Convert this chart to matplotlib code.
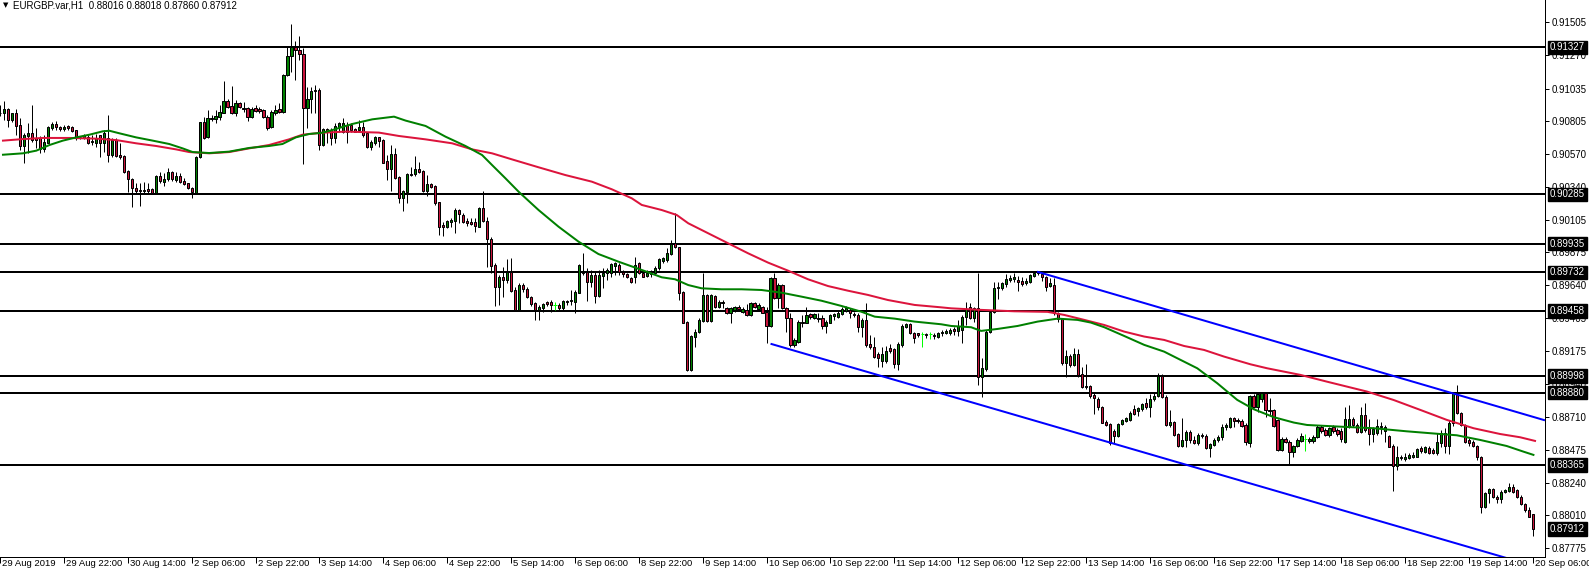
import numpy as np
import matplotlib
matplotlib.use("Agg")
import matplotlib.pyplot as plt
import matplotlib.transforms as mtransforms

plt.rcParams['font.family'] = ['Liberation Sans', 'DejaVu Sans']

# EURGBP H1 candles, prices in points (1e-5)
opens = [90860,
    90864, 90888, 90812, 90864, 90777, 90628, 90699, 90718, 90682, 90682,
    90604, 90651, 90753, 90784, 90760, 90746, 90770, 90765, 90741, 90694,
    90682, 90694, 90659, 90651, 90706, 90647, 90682, 90564, 90670, 90566,
    90557, 90451, 90391, 90328, 90316, 90311, 90323, 90323, 90297, 90415,
    90375, 90391, 90446, 90387, 90415, 90377, 90363, 90328, 90292, 90547,
    90796, 90689, 90817, 90817, 90836, 90864, 90944, 90911, 90859, 90930,
    90895, 90895, 90836, 90897, 90892, 90883, 90836, 90760, 90864, 90888,
    90871, 91131, 91266, 91332, 91308, 91280, 90895, 90959, 91020, 91025,
    90635, 90746, 90741, 90682, 90765, 90730, 90777, 90777, 90746, 90741,
    90760, 90718, 90619, 90652, 90689, 90671, 90524, 90465, 90571, 90406,
    90257, 90304, 90430, 90427, 90465, 90451, 90311, 90359, 90344, 90229,
    90068, 90051, 90092, 90099, 90174, 90139, 90096, 90087, 90087, 90056,
    90186, 90099, 89966, 89784, 89631, 89697, 89678, 89737, 89607, 89465,
    89643, 89614, 89555, 89513, 89465, 89477, 89520, 89520, 89501, 89501,
    89477, 89525, 89527, 89525, 89588, 89737, 89737, 89666, 89714, 89565,
    89707, 89725, 89730, 89780, 89784, 89737, 89721, 89690, 89700, 89801,
    89730, 89706, 89737, 89725, 89761, 89815, 89820, 89862, 89938, 89909,
    89595, 89382, 89040, 89276, 89312, 89390, 89572, 89390, 89565, 89489,
    89524, 89477, 89442, 89465, 89489, 89453, 89465, 89430, 89512, 89470,
    89484, 89453, 89352, 89690, 89548, 89642, 89477, 89406, 89217, 89241,
    89383, 89375, 89437, 89406, 89406, 89406, 89352, 89375, 89423, 89413,
    89437, 89460, 89465, 89437, 89430, 89347, 89394, 89224, 89201, 89153,
    89106, 89106, 89193, 89186, 89080, 89217, 89347, 89366, 89305, 89300,
    89295, 89295, 89295, 89288, 89276, 89300, 89305, 89305, 89329, 89319,
    89324, 89418, 89485, 89407, 89477, 88993, 89045, 89312, 89454, 89619,
    89619, 89650, 89678, 89683, 89678, 89674, 89655, 89664, 89707, 89726,
    89721, 89697, 89636, 89643, 89442, 89400, 89088, 89140, 89076, 89154,
    89012, 88917, 88927, 88863, 88832, 88776, 88674, 88657, 88610, 88572,
    88657, 88681, 88686, 88762, 88752, 88762, 88804, 88776, 88832, 88856,
    88998, 88851, 88650, 88674, 88587, 88502, 88540, 88603, 88540, 88520,
    88580, 88572, 88485, 88509, 88540, 88563, 88634, 88639, 88698, 88686,
    88681, 88650, 88525, 88856, 88780, 88832, 88875, 88757, 88757, 88686,
    88473, 88549, 88532, 88461, 88501, 88539, 88549, 88539, 88539, 88563,
    88634, 88615, 88579, 88634, 88615, 88610, 88532, 88643, 88690, 88650,
    88603, 88721, 88627, 88586, 88591, 88643, 88610, 88572, 88501, 88360,
    88421, 88407, 88414, 88426, 88426, 88485, 88461, 88485, 88473, 88449,
    88525, 88596, 88501, 88662, 88875, 88738, 88650, 88544, 88532, 88501,
    88421, 88067, 88166, 88194, 88142, 88123, 88178, 88185, 88213, 88190,
    88142, 88090, 88048, 88016]

highs = [90920,
    90947, 90895, 90864, 90888, 90824, 90718, 90788, 90918, 90753, 90699,
    90706, 90770, 90800, 90807, 90770, 90777, 90777, 90770, 90741, 90700,
    90710, 90706, 90706, 90713, 90706, 90741, 90848, 90682, 90682, 90651,
    90564, 90458, 90399, 90363, 90363, 90375, 90363, 90328, 90422, 90446,
    90434, 90469, 90451, 90446, 90434, 90399, 90368, 90335, 90557, 90800,
    90836, 90883, 90848, 90883, 90918, 91091, 90959, 91053, 90954, 90942,
    90942, 90902, 90907, 90918, 90902, 90888, 90848, 90883, 90918, 90930,
    91138, 91332, 91493, 91374, 91408, 91320, 91048, 91048, 91060, 91037,
    90753, 90753, 90753, 90789, 90800, 90824, 90800, 90789, 90753, 90812,
    90800, 90723, 90671, 90699, 90694, 90675, 90564, 90635, 90611, 90415,
    90316, 90434, 90482, 90557, 90517, 90458, 90422, 90368, 90352, 90233,
    90092, 90103, 90115, 90186, 90179, 90155, 90115, 90115, 90115, 90198,
    90309, 90127, 89985, 89796, 89713, 89773, 89825, 89832, 89631, 89655,
    89659, 89626, 89565, 89522, 89501, 89513, 89532, 89536, 89525, 89513,
    89536, 89536, 89607, 89607, 89791, 89867, 89761, 89749, 89737, 89749,
    89761, 89761, 89796, 89808, 89796, 89749, 89730, 89701, 89843, 89808,
    89737, 89749, 89749, 89777, 89831, 89843, 89902, 89961, 90150, 89914,
    89602, 89390, 89288, 89328, 89406, 89730, 89579, 89579, 89572, 89536,
    89536, 89484, 89489, 89494, 89501, 89484, 89508, 89522, 89524, 89512,
    89494, 89489, 89697, 89725, 89654, 89650, 89489, 89442, 89264, 89394,
    89430, 89484, 89446, 89442, 89442, 89430, 89394, 89437, 89446, 89465,
    89489, 89494, 89477, 89454, 89442, 89406, 89512, 89288, 89276, 89170,
    89205, 89210, 89224, 89193, 89241, 89366, 89375, 89375, 89312, 89305,
    89312, 89305, 89312, 89305, 89312, 89324, 89329, 89336, 89347, 89395,
    89430, 89525, 89518, 89489, 89726, 89123, 89324, 89466, 89666, 89666,
    89666, 89721, 89714, 89726, 89707, 89697, 89690, 89721, 89744, 89744,
    89730, 89707, 89690, 89690, 89454, 89407, 89182, 89154, 89194, 89187,
    89064, 89083, 88934, 88875, 88847, 88785, 88686, 88667, 88620, 88662,
    88691, 88710, 88752, 88792, 88780, 88809, 88839, 88870, 88875, 89017,
    89012, 88863, 88757, 88681, 88596, 88698, 88615, 88615, 88572, 88591,
    88591, 88587, 88525, 88556, 88580, 88657, 88662, 88710, 88710, 88698,
    88691, 88662, 88863, 88870, 88875, 88879, 88879, 88839, 88761, 88690,
    88567, 88563, 88544, 88508, 88556, 88591, 88586, 88563, 88579, 88650,
    88650, 88627, 88638, 88650, 88627, 88627, 88780, 88792, 88705, 88667,
    88780, 88804, 88690, 88638, 88690, 88674, 88650, 88579, 88516, 88501,
    88438, 88449, 88449, 88461, 88485, 88501, 88501, 88501, 88485, 88591,
    88615, 88627, 88686, 88887, 88934, 88745, 88657, 88556, 88544, 88508,
    88430, 88178, 88201, 88201, 88154, 88190, 88194, 88241, 88232, 88194,
    88154, 88095, 88067, 88018]

lows = [90840,
    90812, 90760, 90800, 90706, 90599, 90510, 90581, 90659, 90611, 90576,
    90588, 90647, 90741, 90741, 90736, 90736, 90741, 90729, 90670, 90675,
    90675, 90642, 90635, 90623, 90552, 90588, 90517, 90552, 90552, 90533,
    90434, 90304, 90198, 90292, 90202, 90292, 90297, 90292, 90288, 90363,
    90344, 90382, 90382, 90375, 90363, 90351, 90321, 90257, 90288, 90540,
    90675, 90682, 90807, 90788, 90812, 90859, 90895, 90855, 90840, 90895,
    90871, 90807, 90824, 90871, 90859, 90824, 90741, 90753, 90848, 90859,
    90864, 91124, 91155, 91096, 91237, 90498, 90753, 90859, 90864, 90599,
    90628, 90647, 90635, 90647, 90730, 90718, 90652, 90730, 90725, 90730,
    90694, 90611, 90600, 90635, 90623, 90505, 90387, 90311, 90392, 90222,
    90170, 90222, 90415, 90415, 90439, 90304, 90274, 90328, 90210, 89997,
    89990, 90044, 90056, 90009, 90085, 90080, 90061, 90068, 90021, 90051,
    90092, 89773, 89725, 89494, 89501, 89560, 89655, 89595, 89465, 89461,
    89595, 89548, 89494, 89395, 89395, 89454, 89494, 89454, 89465, 89465,
    89465, 89501, 89501, 89446, 89583, 89711, 89532, 89631, 89517, 89560,
    89619, 89678, 89702, 89714, 89714, 89702, 89690, 89654, 89654, 89720,
    89697, 89697, 89697, 89720, 89749, 89796, 89808, 89855, 89902, 89536,
    89371, 89035, 89035, 89205, 89300, 89383, 89383, 89383, 89477, 89477,
    89477, 89437, 89371, 89453, 89465, 89442, 89423, 89423, 89477, 89465,
    89442, 89234, 89347, 89541, 89477, 89470, 89312, 89205, 89205, 89234,
    89347, 89371, 89399, 89399, 89383, 89328, 89300, 89371, 89394, 89406,
    89430, 89453, 89406, 89418, 89312, 89276, 89205, 89186, 89123, 89064,
    89064, 89087, 89158, 89052, 89040, 89205, 89335, 89295, 89234, 89276,
    89205, 89264, 89257, 89257, 89264, 89281, 89296, 89288, 89288, 89281,
    89234, 89359, 89400, 89383, 88934, 88847, 89036, 89300, 89447, 89541,
    89607, 89631, 89666, 89666, 89603, 89636, 89643, 89655, 89697, 89714,
    89674, 89603, 89631, 89430, 89383, 89076, 88993, 89064, 89069, 88993,
    88910, 88903, 88839, 88728, 88757, 88662, 88643, 88509, 88525, 88568,
    88648, 88674, 88681, 88721, 88714, 88752, 88762, 88705, 88823, 88847,
    88839, 88643, 88639, 88572, 88497, 88492, 88497, 88525, 88516, 88509,
    88556, 88478, 88421, 88502, 88532, 88540, 88615, 88627, 88639, 88662,
    88634, 88509, 88497, 88768, 88745, 88816, 88709, 88721, 88638, 88468,
    88468, 88520, 88367, 88426, 88492, 88532, 88468, 88525, 88525, 88556,
    88596, 88572, 88568, 88596, 88572, 88532, 88525, 88627, 88638, 88591,
    88591, 88603, 88508, 88532, 88579, 88586, 88532, 88492, 88185, 88331,
    88402, 88397, 88407, 88414, 88421, 88454, 88449, 88445, 88445, 88440,
    88492, 88449, 88445, 88643, 88728, 88643, 88525, 88501, 88492, 88402,
    88024, 88060, 88095, 88130, 88100, 88095, 88166, 88178, 88171, 88130,
    88083, 88036, 87996, 87860]

closes = [90864,
    90888, 90812, 90859, 90770, 90628, 90706, 90718, 90670, 90670, 90604,
    90659, 90765, 90784, 90765, 90746, 90765, 90753, 90736, 90689, 90689,
    90706, 90651, 90662, 90682, 90647, 90718, 90564, 90670, 90557, 90547,
    90446, 90391, 90328, 90311, 90311, 90316, 90309, 90297, 90415, 90382,
    90394, 90441, 90391, 90415, 90375, 90358, 90328, 90299, 90552, 90796,
    90687, 90824, 90829, 90840, 90871, 90944, 90907, 90859, 90930, 90902,
    90888, 90836, 90888, 90878, 90878, 90831, 90753, 90871, 90883, 90871,
    91131, 91266, 91332, 91308, 91280, 90895, 90959, 91020, 91025, 90635,
    90746, 90730, 90682, 90770, 90789, 90793, 90730, 90741, 90730, 90765,
    90706, 90619, 90659, 90694, 90666, 90510, 90465, 90571, 90404, 90257,
    90309, 90430, 90422, 90465, 90446, 90311, 90359, 90340, 90226, 90056,
    90051, 90096, 90103, 90174, 90146, 90092, 90085, 90075, 90061, 90186,
    90099, 89966, 89780, 89631, 89697, 89678, 89737, 89602, 89465, 89643,
    89612, 89555, 89506, 89465, 89489, 89508, 89508, 89501, 89501, 89477,
    89529, 89532, 89534, 89595, 89784, 89730, 89666, 89714, 89565, 89714,
    89730, 89749, 89791, 89796, 89737, 89721, 89697, 89666, 89784, 89730,
    89702, 89725, 89720, 89761, 89824, 89831, 89867, 89933, 89909, 89588,
    89375, 89040, 89281, 89312, 89394, 89572, 89390, 89572, 89484, 89524,
    89515, 89442, 89477, 89484, 89470, 89470, 89430, 89512, 89489, 89501,
    89446, 89352, 89690, 89548, 89642, 89477, 89406, 89217, 89253, 89383,
    89371, 89430, 89413, 89435, 89401, 89352, 89383, 89430, 89437, 89442,
    89470, 89477, 89442, 89430, 89347, 89394, 89217, 89201, 89130, 89123,
    89153, 89177, 89177, 89080, 89222, 89352, 89366, 89300, 89264, 89288,
    89295, 89288, 89295, 89281, 89305, 89312, 89319, 89324, 89319, 89352,
    89418, 89470, 89407, 89477, 88993, 89052, 89312, 89454, 89619, 89626,
    89655, 89683, 89690, 89702, 89666, 89650, 89674, 89714, 89730, 89737,
    89697, 89631, 89655, 89442, 89400, 89088, 89140, 89076, 89154, 89005,
    88917, 88927, 88856, 88839, 88776, 88667, 88650, 88525, 88572, 88657,
    88686, 88698, 88738, 88728, 88769, 88799, 88776, 88832, 88856, 88998,
    88851, 88650, 88674, 88580, 88502, 88544, 88603, 88540, 88520, 88580,
    88575, 88485, 88516, 88544, 88563, 88634, 88650, 88698, 88681, 88680,
    88643, 88532, 88856, 88780, 88870, 88875, 88757, 88750, 88643, 88473,
    88549, 88532, 88461, 88501, 88544, 88572, 88549, 88549, 88568, 88634,
    88610, 88579, 88627, 88610, 88586, 88549, 88690, 88690, 88650, 88603,
    88721, 88615, 88586, 88620, 88643, 88638, 88634, 88497, 88360, 88421,
    88414, 88426, 88438, 88438, 88478, 88468, 88492, 88454, 88449, 88532,
    88596, 88501, 88662, 88875, 88738, 88650, 88532, 88520, 88501, 88421,
    88067, 88171, 88194, 88137, 88123, 88178, 88190, 88213, 88178, 88137,
    88090, 88048, 88000, 87912]

# moving averages (bar index, price in points)
ma_fast_bar = [0.75, 5.75, 9.1, 12.4, 15.75, 19.1, 22.4, 25.75, 27.4, 29.9, 34.1, 38.25,
               42.4, 45.75, 48.25, 52.4, 57.4, 62.4, 67.4, 70.75, 74.1, 77.4, 80.75,
               83.25, 88.25, 93.25, 98.7, 101.6, 106.6, 111.6, 116.6, 120.75, 123.25,
               126.6, 129.9, 134.9, 139.9, 144.9, 149.9, 154.9, 160.75, 165.75, 169.1,
               172.4, 175.75, 180.75, 185.75, 190.75, 195.75, 200.75, 205.75, 210.75,
               215.75, 219.1, 224.1, 229.1, 235.75, 238.25, 243.25, 245.75, 249.9,
               254.9, 259.9, 264.9, 269.9, 273.25, 276.6, 281.6, 286.6, 291.6, 294.9,
               299.9, 304.9, 309.9, 314.1, 319.1, 324.1, 327.4, 335.75, 344.1, 352.4,
               360.75, 364.9, 370.75, 377.4, 381.6, 384.1]
ma_fast_val = [90566, 90576, 90595, 90635, 90666, 90689, 90708, 90732, 90736, 90718, 90689,
               90666, 90642, 90611, 90585, 90578, 90588, 90614, 90628, 90642, 90689,
               90713, 90722, 90741, 90784, 90817, 90836, 90808, 90770, 90694, 90628,
               90564, 90493, 90399, 90304, 90174, 90056, 89950, 89862, 89808, 89749,
               89697, 89683, 89642, 89619, 89612, 89612, 89607, 89588, 89560, 89531,
               89494, 89453, 89418, 89404, 89383, 89364, 89352, 89343, 89317, 89331,
               89352, 89383, 89404, 89395, 89376, 89343, 89281, 89218, 89170, 89123,
               89052, 88946, 88828, 88761, 88705, 88667, 88650, 88638, 88627, 88605,
               88586, 88577, 88544, 88501, 88461, 88438]

ma_slow_bar = [0.75, 5.75, 10.75, 17.4, 24.1, 29.1, 34.1, 39.1, 44.1, 47.4, 52.4, 57.4,
               62.4, 67.4, 72.4, 75.75, 80.75, 86.6, 94.9, 99.9, 106.6, 113.25, 118.25,
               123.25, 128.25, 134.9, 141.6, 148.25, 153.25, 158.25, 160.75, 165.75,
               169.5, 172.4, 177.4, 182.4, 187.4, 192.4, 197.4, 202.4, 207.4, 212.4,
               217.4, 222.4, 229.1, 235.75, 238.25, 245.75, 254.1, 262.4, 266.6, 271.6,
               276.6, 281.6, 286.6, 291.6, 296.6, 301.6, 306.6, 313.25, 317.4, 325.75,
               332.4, 342.4, 349.1, 355.75, 362.4, 369.1, 375.75, 380.75, 384.5]
ma_slow_val = [90666, 90677, 90685, 90685, 90680, 90670, 90647, 90628, 90604, 90585, 90576,
               90585, 90611, 90635, 90675, 90708, 90722, 90730, 90723, 90699, 90675,
               90647, 90604, 90576, 90533, 90477, 90422, 90375, 90321, 90257, 90210,
               90174, 90139, 90080, 90009, 89938, 89867, 89801, 89744, 89683, 89635,
               89602, 89572, 89536, 89501, 89484, 89477, 89466, 89456, 89452, 89430,
               89395, 89359, 89312, 89277, 89253, 89210, 89182, 89135, 89080, 89052,
               89005, 88957, 88887, 88827, 88757, 88686, 88627, 88586, 88563, 88537]

# horizontal levels and channel lines
levels = [0.91327, 0.90285, 0.89935, 0.89732, 0.89458, 0.88998, 0.88880, 0.88365]
channel_upper_bar = [260.0, 386.75]
channel_upper_val = [0.89735, 0.88685]
channel_lower_bar = [193.25, 380.0]
channel_lower_val = [0.89224, 0.87685]

price_ticks = [0.91505, 0.91270, 0.91035, 0.90805, 0.90570, 0.90340, 0.90105, 0.89875,
               0.89640, 0.89405, 0.89175, 0.88940, 0.88710, 0.88475, 0.88240, 0.88010,
               0.87775]
time_labels = ["29 Aug 2019", "29 Aug 22:00", "30 Aug 14:00", "2 Sep 06:00", "2 Sep 22:00",
               "3 Sep 14:00", "4 Sep 06:00", "4 Sep 22:00", "5 Sep 14:00", "6 Sep 06:00",
               "8 Sep 22:00", "9 Sep 14:00", "10 Sep 06:00", "10 Sep 22:00", "11 Sep 14:00",
               "12 Sep 06:00", "12 Sep 22:00", "13 Sep 14:00", "16 Sep 06:00", "16 Sep 22:00",
               "17 Sep 14:00", "18 Sep 06:00", "18 Sep 22:00", "19 Sep 14:00", "20 Sep 06:00"]
time_label_bars = list(range(0, 385, 16))
last_price = 0.87912

o = np.array(opens) / 1e5
h = np.array(highs) / 1e5
l = np.array(lows) / 1e5
c = np.array(closes) / 1e5
x = np.arange(len(o))

W, H = 1589, 570
fig = plt.figure(figsize=(W / 100, H / 100), dpi=100)
ax = fig.add_axes([0, 13 / H, 1545 / W, 557 / H])

px = 72 / 100  # one pixel in points

bull = c > o
bear = c < o
doji = c == o

# wicks
ax.vlines(x[~doji], l[~doji], h[~doji], colors='black', linewidth=px, zorder=3)
ax.vlines(x[doji], l[doji], h[doji], colors='#00FF00', linewidth=px, zorder=3)
ax.hlines(c[doji], x[doji] - 0.4, x[doji] + 0.4, colors='#00FF00', linewidth=px, zorder=3)

# bodies
ax.bar(x[bull], (c - o)[bull], bottom=o[bull], width=0.55, color='#008000',
       edgecolor='black', linewidth=px, zorder=4)
ax.bar(x[bear], (o - c)[bear], bottom=c[bear], width=0.55, color='#C8143C',
       edgecolor='black', linewidth=px, zorder=4)

# moving averages
ax.plot(ma_slow_bar, np.array(ma_slow_val) / 1e5, color='#DC143C', linewidth=2 * px, zorder=5)
ax.plot(ma_fast_bar, np.array(ma_fast_val) / 1e5, color='#008000', linewidth=2 * px, zorder=5)

# channel
ax.plot(channel_upper_bar, channel_upper_val, color='#0000FF', linewidth=2 * px, zorder=5)
ax.plot(channel_lower_bar, channel_lower_val, color='#0000FF', linewidth=2 * px, zorder=5)

# levels
for lv in levels:
    ax.axhline(lv, color='black', linewidth=2 * px, zorder=2)

ax.set_xlim(0.75, 387.0)
ax.set_ylim(0.87714, 0.91663)

for s in ['top', 'left']:
    ax.spines[s].set_visible(False)
for s in ['right', 'bottom']:
    ax.spines[s].set_color('black')
    ax.spines[s].set_linewidth(px)

ax.yaxis.tick_right()
ax.set_yticks(price_ticks)
ax.set_yticklabels(['%.5f' % p for p in price_ticks])
ax.tick_params(axis='y', direction='out', length=3, width=px, pad=2, labelsize=7, colors='black')

ax.set_xticks(time_label_bars)
ax.set_xticklabels(time_labels)
ax.tick_params(axis='x', direction='out', length=4, width=px, pad=-2.6, labelsize=6.8,
               colors='black')
offset = mtransforms.ScaledTranslation(2 / 100, 0, fig.dpi_scale_trans)
for lab in ax.get_xticklabels():
    lab.set_horizontalalignment('left')
    lab.set_transform(lab.get_transform() + offset)

# price boxes on the right axis
trans = mtransforms.blended_transform_factory(ax.transAxes, ax.transData)
for lv in levels + [last_price]:
    ax.text(1 + 5 / 1545, lv, '%.5f' % lv, transform=trans, ha='left', va='center',
            color='white', fontsize=7, clip_on=False, zorder=10,
            bbox=dict(boxstyle='square,pad=0.18', facecolor='black', edgecolor='black'))

# header
fig.text(3 / W, 1 - 5 / H, '\u25BC', fontsize=5, ha='left', va='center', family='DejaVu Sans')
fig.text(13 / W, 1 - 5 / H, 'EURGBP.var,H1  0.88016 0.88018 0.87860 0.87912',
         fontsize=7, ha='left', va='center')

fig.savefig('out.png', dpi=100)
